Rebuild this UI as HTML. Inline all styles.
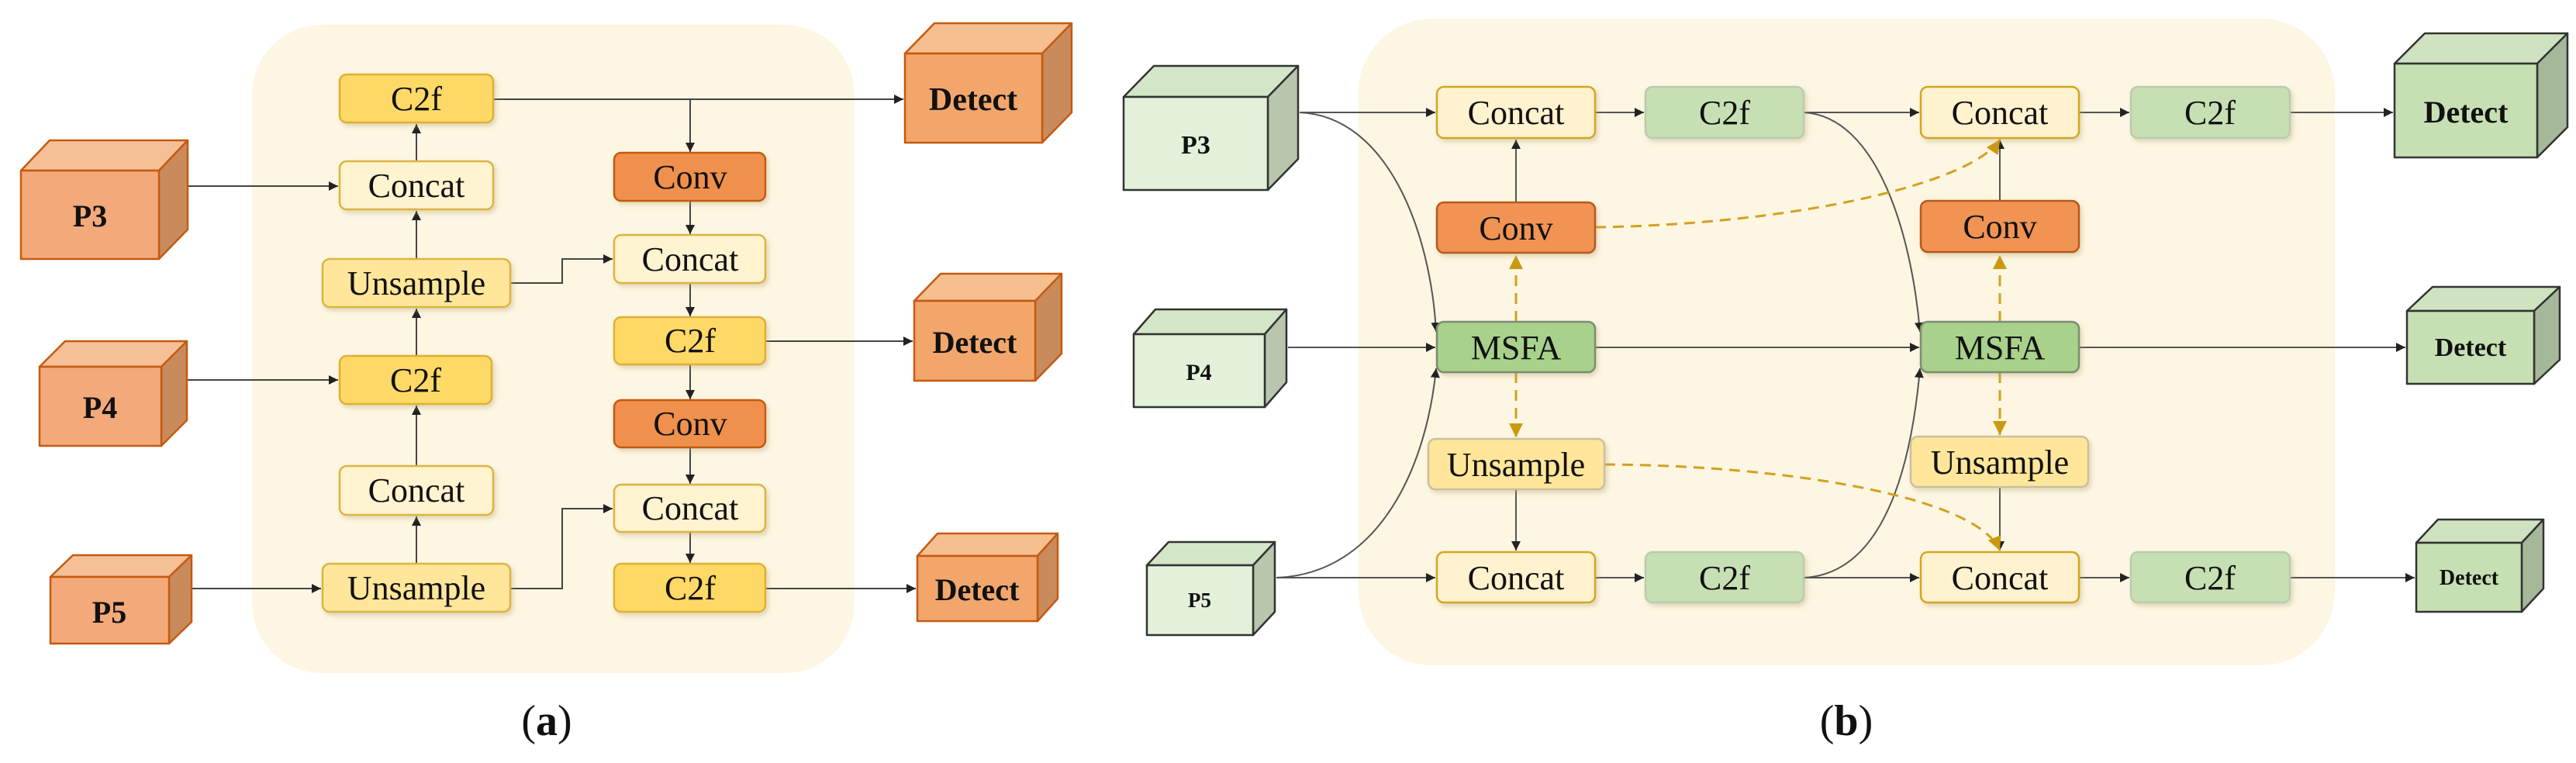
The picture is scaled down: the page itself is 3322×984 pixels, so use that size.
<!DOCTYPE html>
<html><head><meta charset="utf-8"><style>
html,body{margin:0;padding:0;background:#fff;}
svg{display:block;}
</style></head><body>
<svg width="3322" height="984" viewBox="0 0 3322 984" xmlns="http://www.w3.org/2000/svg" font-family="'Liberation Serif','Noto Serif CJK SC','DejaVu Serif',serif">
<defs>
<marker id="ar" viewBox="0 0 10 10" refX="10" refY="5" markerWidth="6" markerHeight="6" orient="auto"><path d="M0,0 L10,5 L0,10 z" fill="#222"/></marker>
<marker id="ay" viewBox="0 0 10 10" refX="10" refY="5" markerWidth="6" markerHeight="6" orient="auto"><path d="M0,0 L10,5 L0,10 z" fill="#c99a10"/></marker>
<filter id="sh" x="-10%" y="-10%" width="125%" height="135%"><feDropShadow dx="3" dy="4" stdDeviation="3" flood-color="#b0a070" flood-opacity="0.35"/></filter>
</defs>

<rect x="325" y="32" width="777" height="836" rx="90" fill="#fdf6e2"/>

<g stroke="#444" stroke-width="2" fill="none" marker-end="url(#ar)">
<line x1="636" y1="128" x2="1165" y2="128"/>
<polyline points="890,128 890,196"/>
<line x1="207" y1="240" x2="436" y2="240"/>
<line x1="537" y1="208" x2="537" y2="160"/>
<line x1="537" y1="334" x2="537" y2="272"/>
<polyline points="658,365 725,365 725,334 790,334"/>
<line x1="537" y1="459" x2="537" y2="398"/>
<line x1="210" y1="490" x2="436" y2="490"/>
<line x1="537" y1="601" x2="537" y2="523"/>
<line x1="537" y1="727" x2="537" y2="666"/>
<line x1="220" y1="759" x2="414" y2="759"/>
<polyline points="658,759 725,759 725,656 790,656"/>
<line x1="890" y1="259" x2="890" y2="302"/>
<line x1="890" y1="365" x2="890" y2="408"/>
<line x1="890" y1="470" x2="890" y2="515"/>
<line x1="890" y1="577" x2="890" y2="624"/>
<line x1="890" y1="686" x2="890" y2="726"/>
<line x1="987" y1="440" x2="1177" y2="440"/>
<line x1="987" y1="759" x2="1181" y2="759"/>
</g>

<g filter="url(#sh)" stroke-width="2.5">
<rect x="438" y="96" width="198" height="62" rx="9" fill="#ffd966" stroke="#e0b030"/>
<rect x="438" y="208" width="198" height="62" rx="9" fill="#fff3d0" stroke="#dcb440"/>
<rect x="416" y="334" width="242" height="62" rx="9" fill="#ffe69a" stroke="#dcb440"/>
<rect x="438" y="459" width="196" height="62" rx="9" fill="#ffd966" stroke="#e0b030"/>
<rect x="438" y="601" width="198" height="63" rx="9" fill="#fff3d0" stroke="#dcb440"/>
<rect x="416" y="727" width="242" height="62" rx="9" fill="#ffe69a" stroke="#dcb440"/>
<rect x="792" y="197" width="195" height="62" rx="9" fill="#f0904e" stroke="#c55a11"/>
<rect x="792" y="303" width="195" height="62" rx="9" fill="#fff3d0" stroke="#dcb440"/>
<rect x="792" y="409" width="195" height="61" rx="9" fill="#ffd966" stroke="#e0b030"/>
<rect x="792" y="516" width="195" height="61" rx="9" fill="#f0904e" stroke="#c55a11"/>
<rect x="792" y="625" width="195" height="61" rx="9" fill="#fff3d0" stroke="#dcb440"/>
<rect x="792" y="727" width="195" height="62" rx="9" fill="#ffd966" stroke="#e0b030"/>
</g>
<g font-size="44" text-anchor="middle" fill="#111">
<text x="537" y="142">C2f</text>
<text x="537" y="254">Concat</text>
<text x="537" y="380">Unsample</text>
<text x="536" y="505">C2f</text>
<text x="537" y="647">Concat</text>
<text x="537" y="773">Unsample</text>
<text x="890" y="243">Conv</text>
<text x="890" y="349">Concat</text>
<text x="890" y="454">C2f</text>
<text x="890" y="561">Conv</text>
<text x="890" y="670">Concat</text>
<text x="890" y="773">C2f</text>
</g>

<g stroke="#c55a11" stroke-width="2.5" stroke-linejoin="round">
<polygon points="27,220 64,181 242,181 205,220" fill="#f6c097"/>
<polygon points="205,220 242,181 242,296 205,334" fill="#c98b5c"/>
<rect x="27" y="220" width="178" height="114" fill="#f3a97a"/>
<polygon points="51,473 84,440 241,440 208,473" fill="#f6c097"/>
<polygon points="208,473 241,440 241,542 208,575" fill="#c98b5c"/>
<rect x="51" y="473" width="157" height="102" fill="#f3a97a"/>
<polygon points="65,744 94,716 247,716 218,744" fill="#f6c097"/>
<polygon points="218,744 247,716 247,802 218,830" fill="#c98b5c"/>
<rect x="65" y="744" width="153" height="86" fill="#f3a97a"/>
<polygon points="1167,69 1205,30 1382,30 1344,69" fill="#f6bf90"/>
<polygon points="1344,69 1382,30 1382,145 1344,184" fill="#c98b5c"/>
<rect x="1167" y="69" width="177" height="115" fill="#f2a66c"/>
<polygon points="1179,388 1213,353 1369,353 1335,388" fill="#f6bf90"/>
<polygon points="1335,388 1369,353 1369,456 1335,491" fill="#c98b5c"/>
<rect x="1179" y="388" width="156" height="103" fill="#f2a66c"/>
<polygon points="1183,717 1209,688 1364,688 1338,717" fill="#f6bf90"/>
<polygon points="1338,717 1364,688 1364,772 1338,801" fill="#c98b5c"/>
<rect x="1183" y="717" width="155" height="84" fill="#f2a66c"/>
</g>
<g font-size="40" font-weight="bold" text-anchor="middle" fill="#111">
<text x="116" y="292">P3</text>
<text x="129" y="539">P4</text>
<text x="141" y="803">P5</text>
<text x="1255" y="142" font-size="42">Detect</text>
<text x="1257" y="455">Detect</text>
<text x="1260" y="774">Detect</text>
</g>
<text x="705" y="948" font-size="56" text-anchor="middle" fill="#111">(<tspan font-weight="bold">a</tspan>)</text>

<rect x="1752" y="24" width="1259" height="834" rx="95" fill="#fdf6e2"/>

<g stroke="#555" stroke-width="2" fill="none" marker-end="url(#ar)">
<line x1="1676" y1="145" x2="1851" y2="145"/>
<path d="M1676,145 C1790,150 1845,300 1852,428"/>
<line x1="2057" y1="145" x2="2120" y2="145"/>
<line x1="2326" y1="145" x2="2475" y2="145"/>
<path d="M2326,145 C2420,150 2465,300 2476,428"/>
<line x1="2681" y1="145" x2="2746" y2="145"/>
<line x1="2953" y1="145" x2="3086" y2="145"/>
<line x1="1955" y1="261" x2="1955" y2="180"/>
<line x1="2579" y1="259" x2="2579" y2="180"/>
<line x1="1661" y1="448" x2="1851" y2="448"/>
<line x1="2057" y1="448" x2="2475" y2="448"/>
<line x1="2681" y1="448" x2="3102" y2="448"/>
<line x1="1955" y1="631" x2="1955" y2="710"/>
<line x1="2579" y1="628" x2="2579" y2="710"/>
<line x1="1646" y1="745" x2="1851" y2="745"/>
<path d="M1646,745 C1780,740 1840,600 1852,475"/>
<line x1="2057" y1="745" x2="2120" y2="745"/>
<line x1="2326" y1="745" x2="2475" y2="745"/>
<path d="M2326,745 C2430,740 2465,600 2476,475"/>
<line x1="2681" y1="745" x2="2746" y2="745"/>
<line x1="2953" y1="745" x2="3114" y2="745"/>
</g>
<g stroke="#d4a020" stroke-width="3" fill="none" stroke-dasharray="14,9" marker-end="url(#ay)">
<line x1="1955" y1="415" x2="1955" y2="329"/>
<line x1="1955" y1="480" x2="1955" y2="564"/>
<line x1="2579" y1="415" x2="2579" y2="329"/>
<line x1="2579" y1="480" x2="2579" y2="561"/>
<path d="M2057,293 C2300,290 2540,240 2579,180"/>
<path d="M2069,599 C2300,600 2550,640 2579,710"/>
</g>

<g filter="url(#sh)" stroke-width="2.5">
<rect x="1853" y="112" width="204" height="66" rx="9" fill="#fff2cf" stroke="#d6a520"/>
<rect x="2122" y="112" width="204" height="66" rx="9" fill="#c6e0b4" stroke="#bccab0"/>
<rect x="2477" y="112" width="204" height="66" rx="9" fill="#fff2cf" stroke="#d6a520"/>
<rect x="2748" y="112" width="205" height="66" rx="9" fill="#c6e0b4" stroke="#bccab0"/>
<rect x="1853" y="261" width="204" height="65" rx="9" fill="#f09352" stroke="#b8581c"/>
<rect x="2477" y="259" width="204" height="66" rx="9" fill="#f09352" stroke="#b8581c"/>
<rect x="1853" y="415" width="204" height="65" rx="9" fill="#a8d18c" stroke="#7c8c72"/>
<rect x="2477" y="415" width="204" height="65" rx="9" fill="#a8d18c" stroke="#7c8c72"/>
<rect x="1842" y="566" width="227" height="65" rx="9" fill="#ffe69a" stroke="#c8c0a0"/>
<rect x="2464" y="563" width="229" height="65" rx="9" fill="#ffe69a" stroke="#c8c0a0"/>
<rect x="1853" y="712" width="204" height="65" rx="9" fill="#fff2cf" stroke="#d6a520"/>
<rect x="2122" y="712" width="204" height="65" rx="9" fill="#c6e0b4" stroke="#bccab0"/>
<rect x="2477" y="712" width="204" height="65" rx="9" fill="#fff2cf" stroke="#d6a520"/>
<rect x="2748" y="712" width="205" height="65" rx="9" fill="#c6e0b4" stroke="#bccab0"/>
</g>
<g font-size="44" text-anchor="middle" fill="#111">
<text x="1955" y="160">Concat</text>
<text x="2224" y="160">C2f</text>
<text x="2579" y="160">Concat</text>
<text x="2850" y="160">C2f</text>
<text x="1955" y="309">Conv</text>
<text x="2579" y="307">Conv</text>
<text x="1955" y="463">MSFA</text>
<text x="2579" y="463">MSFA</text>
<text x="1955" y="614">Unsample</text>
<text x="2579" y="611">Unsample</text>
<text x="1955" y="760">Concat</text>
<text x="2224" y="760">C2f</text>
<text x="2579" y="760">Concat</text>
<text x="2850" y="760">C2f</text>
</g>

<g stroke="#333" stroke-width="2.5" stroke-linejoin="round">
<polygon points="1449,125 1488,85 1674,85 1635,125" fill="#d4e6c8"/>
<polygon points="1635,125 1674,85 1674,205 1635,245" fill="#b8c6ae"/>
<rect x="1449" y="125" width="186" height="120" fill="#e3f1da"/>
<polygon points="1462,431 1490,399 1659,399 1631,431" fill="#d4e6c8"/>
<polygon points="1631,431 1659,399 1659,493 1631,525" fill="#b8c6ae"/>
<rect x="1462" y="431" width="169" height="94" fill="#e3f1da"/>
<polygon points="1479,729 1507,699 1644,699 1616,729" fill="#d4e6c8"/>
<polygon points="1616,729 1644,699 1644,789 1616,819" fill="#b8c6ae"/>
<rect x="1479" y="729" width="137" height="90" fill="#e3f1da"/>
<polygon points="3088,82 3127,43 3311,43 3272,82" fill="#cfe3c0"/>
<polygon points="3272,82 3311,43 3311,164 3272,203" fill="#a6b89a"/>
<rect x="3088" y="82" width="184" height="121" fill="#c6e0b4"/>
<polygon points="3104,401 3137,370 3301,370 3268,401" fill="#cfe3c0"/>
<polygon points="3268,401 3301,370 3301,464 3268,495" fill="#a6b89a"/>
<rect x="3104" y="401" width="164" height="94" fill="#c6e0b4"/>
<polygon points="3116,700 3144,670 3280,670 3252,700" fill="#cfe3c0"/>
<polygon points="3252,700 3280,670 3280,759 3252,789" fill="#a6b89a"/>
<rect x="3116" y="700" width="136" height="89" fill="#c6e0b4"/>
</g>
<g font-weight="bold" text-anchor="middle" fill="#111">
<text x="1542" y="198" font-size="34">P3</text>
<text x="1546" y="490" font-size="30">P4</text>
<text x="1547" y="783" font-size="27">P5</text>
<text x="3180" y="158" font-size="40">Detect</text>
<text x="3186" y="459" font-size="34">Detect</text>
<text x="3184" y="754" font-size="28">Detect</text>
</g>
<text x="2381" y="948" font-size="56" text-anchor="middle" fill="#111">(<tspan font-weight="bold">b</tspan>)</text>
</svg>
</body></html>
